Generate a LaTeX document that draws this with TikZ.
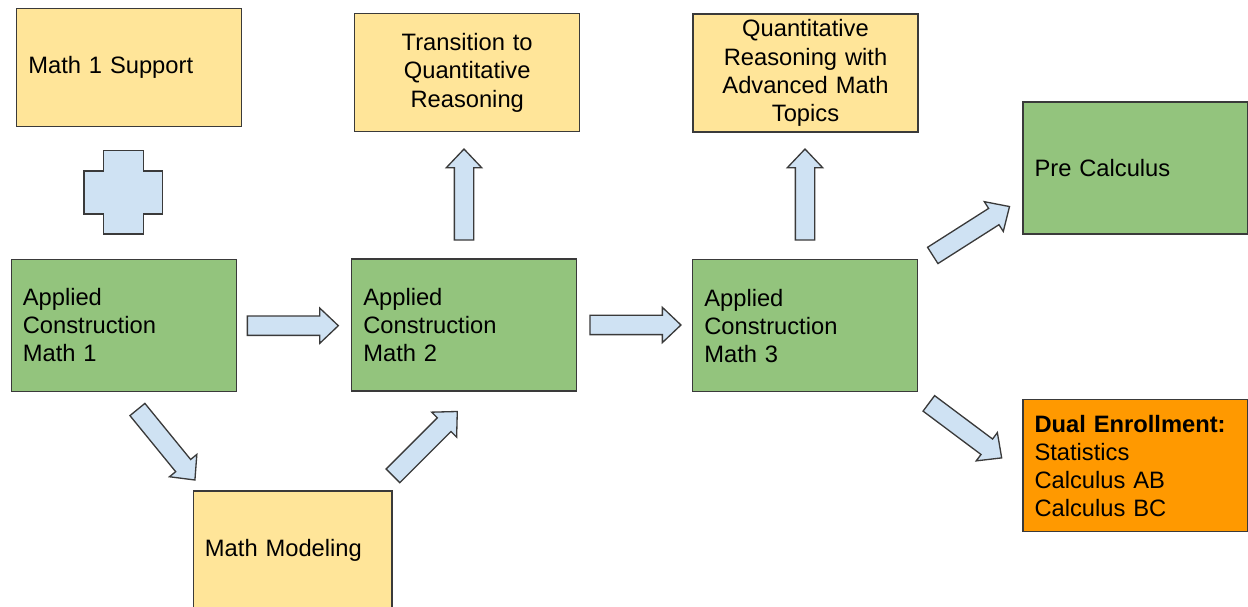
\documentclass[tikz,border=0pt]{standalone}
\usepackage{fontspec}
\setmainfont{Liberation Sans}
\usetikzlibrary{shapes.arrows}
\definecolor{boxyellow}{HTML}{FFE599}
\definecolor{boxgreen}{HTML}{93C47D}
\definecolor{boxorange}{HTML}{FF9900}
\definecolor{arrowblue}{HTML}{CFE2F3}
\definecolor{boxline}{HTML}{3A3A3A}
\begin{document}
\begin{tikzpicture}[x=0.02cm, y=0.02cm]
\tikzstyle{every node}+=[font=\fontsize{13.5}{16}\selectfont, draw=boxline, line width=0.75pt]
\tikzstyle{course}=[rectangle, minimum width=4.5cm, minimum height=2.64cm, inner xsep=0.23cm, text width=4.04cm, align=left]
\tikzstyle{elective}=[course, fill=boxyellow, minimum height=2.36cm]
\tikzstyle{core}=[course, fill=boxgreen]
\tikzstyle{college}=[course, fill=boxorange]
\tikzstyle{flow}=[single arrow, fill=arrowblue, anchor=tail, inner xsep=0pt, inner ysep=0.18cm, minimum height=1.82cm, single arrow head extend=0.16cm, single arrow tip angle=87]
\useasboundingbox (0,0) rectangle (1248,-607);
\node [elective] (sup) at (129.3,-67.2) {Math 1 Support};
\node [core] (ac1) at (123.8,-325.3) {Applied\\Construction\\Math 1};
\node [elective, align=center] (tqr) at (467.2,-72.8) {Transition to\\Quantitative\\Reasoning};
\node [core] (ac2) at (464.3,-325) {Applied\\Construction\\Math 2};
\node [elective, align=center] (qra) at (805.5,-73) {Quantitative\\Reasoning with\\Advanced Math\\Topics};
\node [core] (ac3) at (805.3,-325.8) {Applied\\Construction\\Math 3};
\node [core] (pre) at (1135.5,-168) {Pre Calculus};
\node [college] (dual) at (1135.5,-465.8) {\textbf{Dual Enrollment:}\\Statistics\\Calculus AB\\Calculus BC};
\node [elective, minimum width=3.97cm, text width=3.51cm] (mm) at (292.7,-550) {Math Modeling};
\draw [fill=arrowblue, draw=boxline, line width=0.75pt] (103.7,-150.7) -- (143.3,-150.7) -- (143.3,-171) -- (162.7,-171) -- (162.7,-214) -- (143.3,-214) -- (143.3,-234) -- (103.7,-234) -- (103.7,-214) -- (84,-214) -- (84,-171) -- (103.7,-171) -- cycle;
\node [flow] (ac1-ac2) at (246.7,-325.7) {};
\node [flow] (ac2-ac3) at (589.3,-325) {};
\node [flow, rotate=90] (ac2-tqr) at (464,-240.7) {};
\node [flow, rotate=90] (ac3-qra) at (805,-240.7) {};
\node [flow, rotate=32.5] (ac3-pre) at (932.2,-255.8) {};
\node [flow, rotate=-36.8] (ac3-dual) at (928.3,-403) {};
\node [flow, rotate=-50.8] (ac1-mm) at (137,-409) {};
\node [flow, rotate=45] (mm-ac2) at (392.5,-476.3) {};
\end{tikzpicture}
\end{document}
